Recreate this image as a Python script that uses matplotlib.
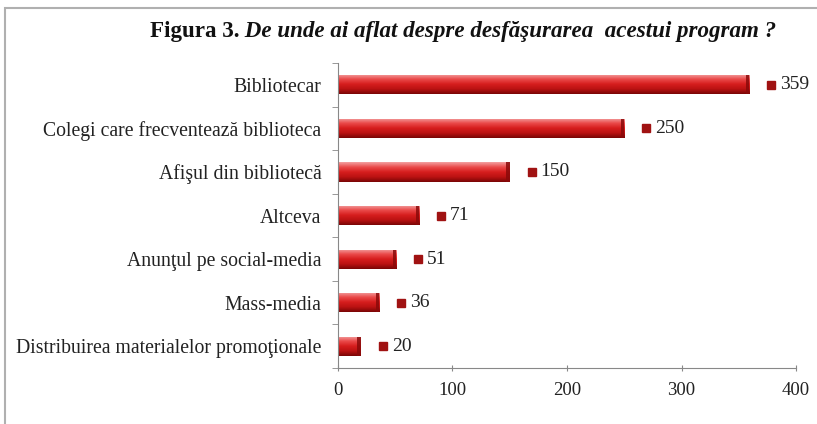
import numpy as np
import matplotlib
matplotlib.use("Agg")
import matplotlib.pyplot as plt
from matplotlib.colors import LinearSegmentedColormap
from matplotlib.patches import Rectangle

# ---------- data ----------
categories = ["Bibliotecar",
              "Colegi care frecventează biblioteca",
              "Afişul din bibliotecă",
              "Altceva",
              "Anunţul pe social-media",
              "Mass-media",
              "Distribuirea materialelor promoţionale"]
values = [359, 250, 150, 71, 51, 36, 20]
xticks = [0, 100, 200, 300, 400]

plt.rcParams['font.family'] = ['Liberation Serif', 'DejaVu Serif']

fig = plt.figure(figsize=(8.17, 4.24), dpi=100)
ax = fig.add_axes([0.4137, 0.132, 0.5606, 0.7194])

y = np.arange(len(categories))
bars = ax.barh(y, values, height=0.44, color='#c81e1e', edgecolor='none')

# cylinder-like shading on each bar (light top, dark bottom)
cmap = LinearSegmentedColormap.from_list(
    "cyl", ["#f3a0a0", "#ea4a4a", "#d61e1e", "#bb1212", "#7a0606"])
grad = np.linspace(0, 1, 64).reshape(-1, 1)
for b in bars:
    x0, y0 = b.get_x(), b.get_y()
    w, h = b.get_width(), b.get_height()
    im = ax.imshow(grad, cmap=cmap, aspect='auto', origin='lower',
                   extent=[x0, x0 + w, y0, y0 + h], zorder=2)
    im.set_clip_path(b)
    # darker end cap
    ax.add_patch(Rectangle((x0 + w - 3.0, y0), 3.0, h, color='#8a0a0a',
                           zorder=3, lw=0, alpha=0.85))

# value markers and labels
for yi, v in zip(y, values):
    ax.plot(v + 19, yi, marker='s', ms=5.5, color='#a01212', zorder=4,
            clip_on=False)
    ax.text(v + 27, yi, str(v), va='center', ha='left', fontsize=14,
            color='#222222')

ax.set_xlim(0, 400)
ax.set_ylim(len(categories) - 0.5, -0.5)
ax.set_xticks(xticks)
ax.set_yticks(y)
ax.set_yticklabels(categories, fontsize=14.2, color='#222222')
ax.tick_params(axis='y', length=0, pad=12)
ax.set_yticks(np.arange(-0.5, len(categories), 1), minor=True)
ax.tick_params(axis='y', which='minor', length=4, direction='out',
               color='#888888')
ax.tick_params(axis='x', length=4, direction='inout', color='#888888',
               labelsize=13.5, labelcolor='#222222', pad=8)
for s in ['top', 'right']:
    ax.spines[s].set_visible(False)
for s in ['left', 'bottom']:
    ax.spines[s].set_color('#888888')

# title
t1 = fig.text(0.183, 0.925, "Figura 3.", fontsize=16.6, fontweight='bold',
              ha='left', va='center', color='#111111')
ax.annotate(" De unde ai aflat despre desfăşurarea  acestui program ?",
            xy=(1, 0.5), xycoords=t1, ha='left', va='center',
            fontsize=16.6, fontweight='bold', fontstyle='italic',
            color='#111111')

# outer frame
fig.add_artist(Rectangle((5 / 817, -0.05), 1.1, 1.05 - 8 / 424,
                         transform=fig.transFigure, fill=False,
                         edgecolor='#b0b0b0', lw=1.5))

fig.savefig("out.png", dpi=100)
